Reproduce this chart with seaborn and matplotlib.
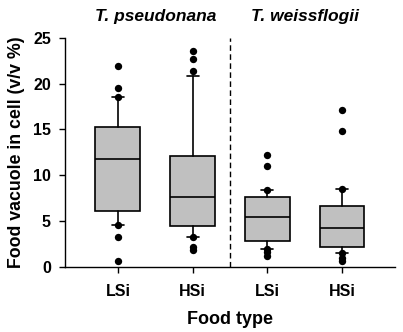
import numpy as np
import pandas as pd
import seaborn as sns
import matplotlib.pyplot as plt

# box statistics (whiskers = 10th / 90th percentiles)
food = ['LSi', 'HSi', 'LSi', 'HSi']
species = ['T. pseudonana', 'T. weissflogii']
q1 = [6.15, 4.5, 2.85, 2.2]
med = [11.8, 7.6, 5.4, 4.3]
q3 = [15.3, 12.1, 7.6, 6.7]
p10 = [4.6, 3.3, 2.0, 1.5]
p90 = [18.5, 20.8, 8.4, 8.5]

# points beyond the whiskers
out_box = [0, 0, 0, 0, 0, 0, 1, 1, 1, 1, 1, 1, 2, 2, 2, 2, 2, 2, 3, 3, 3, 3, 3, 3]
out_val = [21.9, 19.5, 18.5, 4.6, 3.3, 0.6,
           23.6, 22.7, 21.4, 3.3, 2.15, 1.8,
           12.2, 11.0, 8.4, 2.0, 1.6, 1.2,
           17.1, 14.8, 8.5, 1.5, 1.0, 0.65]

sns.set_style('ticks')
plt.rcParams['font.family'] = ['Liberation Sans', 'DejaVu Sans']
plt.rcParams['text.color'] = 'black'
plt.rcParams['axes.labelcolor'] = 'black'
plt.rcParams['xtick.color'] = 'black'
plt.rcParams['ytick.color'] = 'black'

fig = plt.figure(figsize=(4.03, 3.32), dpi=100)
ax = fig.add_axes([0.161, 0.196, 0.819, 0.69])

stats = []
for i in range(len(food)):
    stats.append({'med': med[i], 'q1': q1[i], 'q3': q3[i],
                  'whislo': p10[i], 'whishi': p90[i], 'fliers': []})

ax.bxp(stats, positions=range(len(food)), widths=0.6, capwidths=0.16,
       patch_artist=True, showfliers=False,
       boxprops=dict(facecolor='#c0c0c0', edgecolor='black', linewidth=1.2),
       medianprops=dict(color='black', linewidth=1.2),
       whiskerprops=dict(color='black', linewidth=1.2),
       capprops=dict(color='black', linewidth=1.2))

df_out = pd.DataFrame({'x': out_box, 'y': out_val})
sns.scatterplot(data=df_out, x='x', y='y', color='black', s=28,
                edgecolor='black', linewidth=0, ax=ax, zorder=5, clip_on=False)

ax.axvline(1.5, color='black', linestyle=(0, (4, 2.5)), linewidth=1.0)

ax.set_xlim(-0.71, 3.71)
ax.set_ylim(0, 25)
ax.set_yticks([0, 5, 10, 15, 20, 25])
ax.set_xticks(range(len(food)))
ax.set_xticklabels(food)
for lab in ax.get_xticklabels() + ax.get_yticklabels():
    lab.set_fontweight('bold')
    lab.set_fontsize(11.5)
ax.tick_params(axis='both', direction='out', length=4, width=1, color='black')
ax.tick_params(axis='x', pad=8)
ax.tick_params(axis='y', pad=6)
for s in ['left', 'bottom']:
    ax.spines[s].set_linewidth(1.0)
    ax.spines[s].set_color('black')
sns.despine(ax=ax)

ax.set_xlabel('Food type', fontsize=13, fontweight='bold', labelpad=9)
ax.set_ylabel('Food vacuole in cell (v/v %)', fontsize=12.8, fontweight='bold', labelpad=6)

ax.text(0.5, 27.3, species[0], ha='center', va='center', fontsize=12.5,
        fontweight='bold', fontstyle='italic')
ax.text(2.5, 27.3, species[1], ha='center', va='center', fontsize=12.5,
        fontweight='bold', fontstyle='italic')

fig.savefig('out.png', dpi=100)
